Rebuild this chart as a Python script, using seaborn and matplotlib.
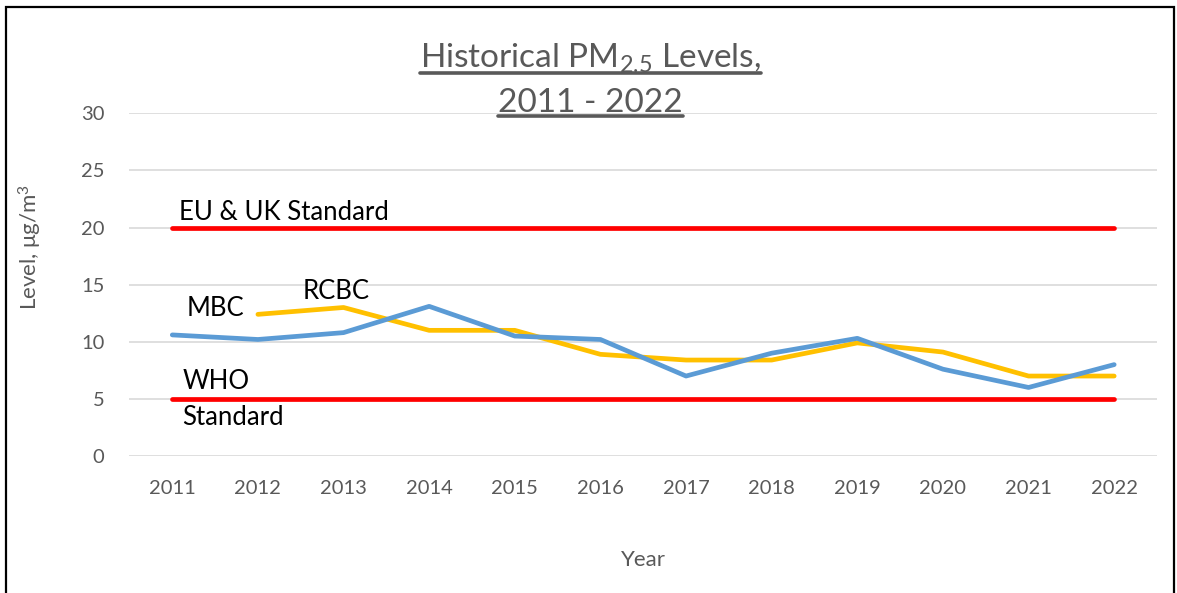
import pandas as pd
import matplotlib
matplotlib.use("Agg")
import matplotlib.pyplot as plt
import seaborn as sns
from matplotlib.patches import Rectangle

years = [str(y) for y in range(2011, 2023)]
mbc = [10.6, 10.2, 10.8, 13.1, 10.5, 10.2, 7.0, 9.0, 10.3, 7.6, 6.0, 8.0]
rcbc = [None, 12.4, 13.0, 11.0, 11.0, 8.9, 8.4, 8.4, 9.9, 9.1, 7.0, 7.0]
eu_uk_standard = [20] * 12
who_standard = [5] * 12
y_ticks = [0, 5, 10, 15, 20, 25, 30]

df = pd.DataFrame({"Year": years, "MBC": mbc, "RCBC": rcbc,
                   "EU": eu_uk_standard, "WHO": who_standard})

sns.set_theme(style="white")
plt.rcParams["font.family"] = ["Lato", "DejaVu Sans"]
plt.rcParams["mathtext.fontset"] = "custom"
plt.rcParams["mathtext.rm"] = "Lato"
plt.rcParams["mathtext.it"] = "Lato"

grey = "#595959"
fig = plt.figure(figsize=(11.77, 5.93), dpi=100)
ax = fig.add_axes([0.110, 0.231, 0.873, 0.578])

x = list(range(len(years)))
for col, color in [("EU", "#FF0000"), ("WHO", "#FF0000"),
                   ("RCBC", "#FFC000"), ("MBC", "#5B9BD5")]:
    sns.lineplot(x=x, y=df[col], ax=ax, color=color, linewidth=3.4,
                 solid_capstyle="round", solid_joinstyle="round", legend=False)

ax.set_xlim(-0.5, len(years) - 0.5)
ax.set_ylim(0, 30)
ax.set_xticks(x)
ax.set_xticklabels(years)
ax.set_yticks(y_ticks)
ax.yaxis.grid(True, color="#D9D9D9", linewidth=1.2)
ax.set_axisbelow(True)
for s in ax.spines.values():
    s.set_visible(False)
ax.tick_params(axis="both", length=0, colors=grey, labelsize=14.5)
ax.tick_params(axis="x", pad=17)
ax.tick_params(axis="y", pad=18)

ax.set_xlabel("Year", fontsize=16, color=grey)
ax.set_ylabel("Level, μg/m$^3$", fontsize=16, color=grey)
ax.xaxis.set_label_coords(0.5, -0.275)
ax.yaxis.set_label_coords(-0.083, 0.61)

txt = dict(fontsize=18.5, color="black", va="center", ha="left")
ax.text(0.08, 21.3, "EU & UK Standard", **txt)
ax.text(0.17, 12.9, "MBC", **txt)
ax.text(1.52, 14.4, "RCBC", **txt)
ax.text(0.12, 6.5, "WHO", **txt)
ax.text(0.12, 3.4, "Standard", **txt)

t1 = fig.text(0.502, 0.902, "Historical PM$_{2.5}$ Levels,", fontsize=24,
              color=grey, ha="center", va="center")
t2 = fig.text(0.502, 0.827, "2011 - 2022", fontsize=24, color=grey,
              ha="center", va="center")

# underline the title lines
fig.canvas.draw()
inv = fig.transFigure.inverted()
for t in (t1, t2):
    bb = t.get_window_extent().transformed(inv)
    fig.add_artist(plt.Line2D([bb.x0, bb.x1], [bb.y0 + 0.002, bb.y0 + 0.002],
                              transform=fig.transFigure, color=grey, linewidth=2.6))

fig.add_artist(Rectangle((6 / 1177, -0.05), 1168 / 1177, 1.05 - 7 / 593,
                         transform=fig.transFigure, fill=False,
                         edgecolor="black", linewidth=1.6))

fig.savefig("out.png", dpi=100)
